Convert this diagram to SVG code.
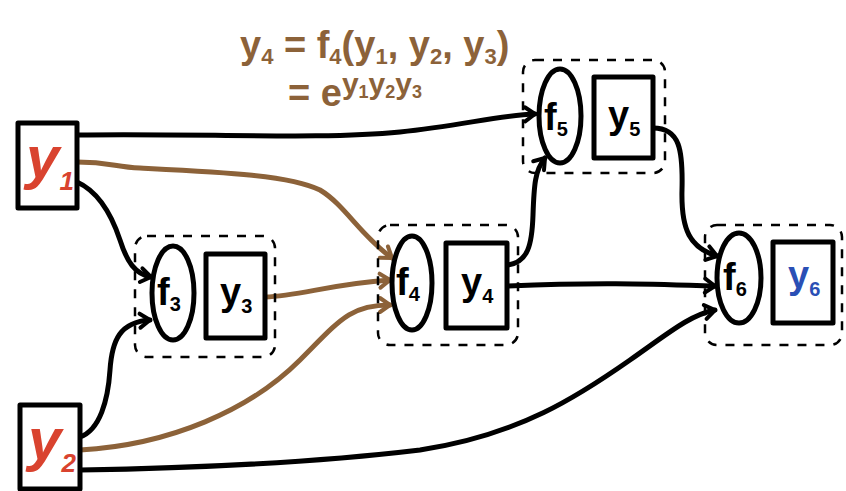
<svg xmlns="http://www.w3.org/2000/svg" width="846" height="491" viewBox="0 0 846 491">
<style>
.box{fill:#fff;stroke:#000;stroke-width:5;stroke-linejoin:round}
.fn{fill:#fff;stroke:#000;stroke-width:5}
.grp{fill:none;stroke:#000;stroke-width:2.5;stroke-dasharray:9 9}
.c{fill:none;stroke:#000;stroke-width:5;stroke-linecap:round;marker-end:url(#ak)}
.cb{fill:none;stroke:#8c6239;stroke-width:5;stroke-linecap:round;marker-end:url(#ab)}
.lbl{font-family:"Liberation Sans",Arial,sans-serif;font-weight:bold;font-size:38px;fill:#000}
.out{fill:#2a4fb5}
.in{font-family:"Liberation Sans",Arial,sans-serif;font-weight:bold;font-style:italic;font-size:60px;fill:#d9432f}
.eq{font-family:"Liberation Sans",Arial,sans-serif;font-weight:bold;font-size:38px;fill:#8c6239}
</style>
<defs>
<marker id="ak" markerUnits="userSpaceOnUse" markerWidth="16" markerHeight="16" refX="12" refY="7" orient="auto" overflow="visible"><path d="M2,0 L12,7 L2,14" fill="none" stroke="#000" stroke-width="4" stroke-linecap="round" stroke-linejoin="round"/></marker>
<marker id="ab" markerUnits="userSpaceOnUse" markerWidth="16" markerHeight="16" refX="12" refY="7" orient="auto" overflow="visible"><path d="M2,0 L12,7 L2,14" fill="none" stroke="#8c6239" stroke-width="4" stroke-linecap="round" stroke-linejoin="round"/></marker>
</defs>

<g id="connectors">
<path class="c" d="M77,135 C200,133 320,140 400,132 C460,126 500,115 535,114"/>
<path class="cb" d="M77,162 C110,162 115,167 140,168 C220,172 290,175 320,190 C345,205 360,235 392,258"/>
<path class="c" d="M77,182 C95,190 110,210 120,240 C127,262 135,274 151,277"/>
<path class="c" d="M80,437 C100,430 108,400 110,370 C112,340 120,322 150,320"/>
<path class="cb" d="M80,450 C170,445 250,410 300,360 C340,320 350,305 390,305"/>
<path class="cb" d="M265,297 C300,296 330,284 390,280"/>
<path class="c" d="M80,470 C200,468 320,462 420,450 C520,435 580,395 630,360 C670,332 690,315 715,310"/>
<path class="c" d="M508,265 C528,262 532,245 533,215 C534,185 535,170 545,158"/>
<path class="c" d="M508,286 C600,282 650,284 715,286"/>
<path class="c" d="M653,128 C680,128 683,150 682,190 C681,230 690,248 717,256"/>
</g>

<g id="y1">
<rect class="box" x="18" y="123" width="59" height="85"/>
<text class="in" x="26" y="178">y<tspan font-size="26" dy="12">1</tspan></text>
</g>
<g id="y2">
<rect class="box" x="20" y="405" width="60" height="84"/>
<text class="in" x="28" y="460">y<tspan font-size="26" dy="12">2</tspan></text>
</g>

<g id="f3">
<rect class="grp" x="135" y="236" width="140" height="121" rx="12"/>
<ellipse class="fn" cx="173" cy="293" rx="21" ry="47"/>
<rect class="box" x="206" y="254" width="59" height="84"/>
<text class="lbl" x="157" y="305">f<tspan font-size="20" dy="6">3</tspan></text>
<text class="lbl" x="220" y="305">y<tspan font-size="20" dy="8">3</tspan></text>
</g>

<g id="f4">
<rect class="grp" x="378" y="225" width="140" height="120" rx="12"/>
<ellipse class="fn" cx="412" cy="283" rx="20" ry="47"/>
<rect class="box" x="446" y="243" width="61" height="85"/>
<text class="lbl" x="396" y="295">f<tspan font-size="20" dy="6">4</tspan></text>
<text class="lbl" x="461" y="295">y<tspan font-size="20" dy="8">4</tspan></text>
</g>

<g id="f5">
<rect class="grp" x="523" y="60" width="142" height="113" rx="12"/>
<ellipse class="fn" cx="560" cy="116" rx="21" ry="47"/>
<rect class="box" x="594" y="77" width="59" height="81"/>
<text class="lbl" x="544" y="130">f<tspan font-size="20" dy="6">5</tspan></text>
<text class="lbl" x="608" y="128">y<tspan font-size="20" dy="8">5</tspan></text>
</g>

<g id="f6">
<rect class="grp" x="705" y="225" width="137" height="120" rx="12"/>
<ellipse class="fn" cx="739" cy="278" rx="22" ry="45"/>
<rect class="box" x="773" y="242" width="60" height="81"/>
<text class="lbl" x="723" y="290">f<tspan font-size="20" dy="6">6</tspan></text>
<text class="lbl out" x="788" y="288">y<tspan font-size="20" dy="8">6</tspan></text>
</g>

<g id="equation">
<text class="eq" x="240" y="58">y<tspan font-size="22" dy="6">4</tspan><tspan dy="-6"> = f</tspan><tspan font-size="22" dy="6">4</tspan><tspan dy="-6">(y</tspan><tspan font-size="22" dy="6">1</tspan><tspan dy="-6">, y</tspan><tspan font-size="22" dy="6">2</tspan><tspan dy="-6">, y</tspan><tspan font-size="22" dy="6">3</tspan><tspan dy="-6">)</tspan></text>
<text class="eq" x="288" y="106">= e<tspan font-size="30" dy="-12">y</tspan><tspan font-size="18" dy="4">1</tspan><tspan font-size="30" dy="-4">y</tspan><tspan font-size="18" dy="4">2</tspan><tspan font-size="30" dy="-4">y</tspan><tspan font-size="18" dy="4">3</tspan></text>
</g>
</svg>
